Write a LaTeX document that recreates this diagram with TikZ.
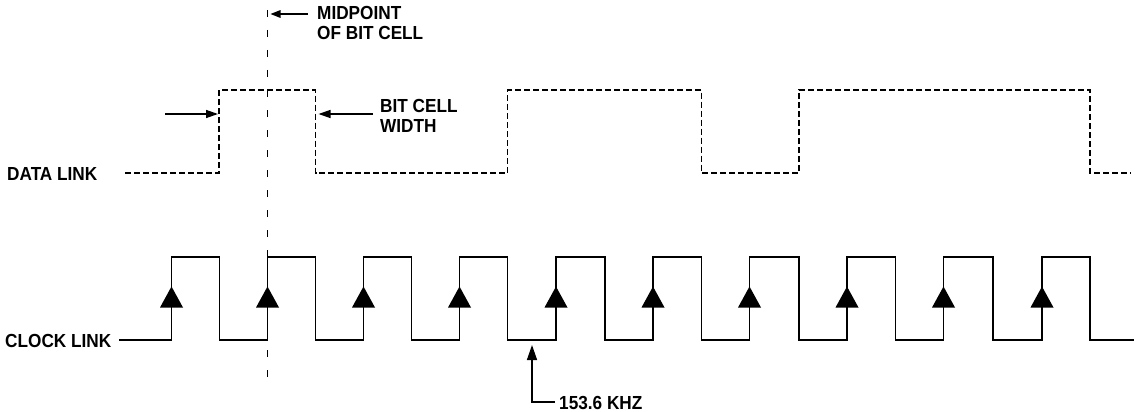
\documentclass[tikz,border=0pt]{standalone}
\usepackage{fontspec}
\newfontfamily\lblfont[FakeStretch=0.91]{Liberation Sans}
\usetikzlibrary{arrows.meta}
\begin{document}
\begin{tikzpicture}[x=1pt,y=-1pt,
  lbl/.style={inner sep=0pt,anchor=base west,align=left,font=\lblfont\bfseries\fontsize{18.9}{20}\selectfont},
  wave/.style={line width=1.5pt,line join=miter},
  datawave/.style={line width=1.2pt,dash pattern=on 6pt off 3pt},
  midline/.style={line width=1.2pt,dash pattern=on 7pt off 13pt},
  ptr/.style={line width=1.4pt,-{Triangle[length=10pt,width=7.5pt]}},
  edgemark/.style={fill=black}
]
\useasboundingbox (0,0) rectangle (1135,412);

% labels
\node[lbl] (data) at (7,180) {DATA LINK};
\node[lbl] (clock) at (5,347) {CLOCK LINK};
\node[lbl] (mid1) at (317,20) {MIDPOINT};
\node[lbl] (mid2) at (317,40) {OF BIT CELL};
\node[lbl] (bc1) at (380,112) {BIT CELL};
\node[lbl] (bc2) at (380,132) {WIDTH};
\node[lbl] (freq) at (559,409) {153.6 KHZ};

% data link waveform (dashed)
\draw[datawave] (125,173) -- (219,173) -- (219,90) -- (315.5,90) -- (315.5,173)
  -- (507.5,173) -- (507.5,90) -- (701.5,90) -- (701.5,173) -- (799,173)
  -- (799,90) -- (1090,90) -- (1090,173) -- (1131,173);

% clock link waveform
\coordinate (clkstart) at (119,340);
\draw[wave] (clkstart)
  -- (171.5,340) -- (171.5,257) -- (219.5,257) -- (219.5,340)
  -- (267.5,340) -- (267.5,257) -- (315.5,257) -- (315.5,340)
  -- (363.5,340) -- (363.5,257) -- (411.5,257) -- (411.5,340)
  -- (459.5,340) -- (459.5,257) -- (507.5,257) -- (507.5,340)
  -- (556,340) -- (556,257) -- (605,257) -- (605,340)
  -- (653,340) -- (653,257) -- (701.5,257) -- (701.5,340)
  -- (749.5,340) -- (749.5,257) -- (799,257) -- (799,340)
  -- (847,340) -- (847,257) -- (895.5,257) -- (895.5,340)
  -- (943.5,340) -- (943.5,257) -- (993,257) -- (993,340)
  -- (1042,340) -- (1042,257) -- (1090,257) -- (1090,340)
  -- (1134,340);

% rising-edge markers
\foreach \x in {171.5,267.5,363.5,459.5,556,653,749.5,847,943.5,1042}
  \fill[edgemark] (\x-11.5,307.5) -- (\x,286.5) -- (\x+11.5,307.5) -- cycle;

% midpoint of bit cell
\draw[midline] (267.5,10) -- (267.5,381);
\coordinate (midtip) at (270.5,14);
\draw[ptr] (308,14) -- (midtip);

% bit cell width arrows
\coordinate (bwl0) at (165,114);
\coordinate (bwl) at (218,114);
\coordinate (bwr) at (318.5,114);
\draw[ptr,-{Triangle[length=12pt,width=8pt]}] (bwl0) -- (bwl);
\draw[ptr,-{Triangle[length=12pt,width=8pt]}] (373,114) -- (bwr);

% 153.6 KHZ pointer
\coordinate (ftip) at (532,345);
\draw[line width=1.4pt,-{Triangle[length=15pt,width=10pt]}] (freq.west |- 0,402) ++(-4,0) -- (532,402) -- (ftip);
\end{tikzpicture}
\end{document}
